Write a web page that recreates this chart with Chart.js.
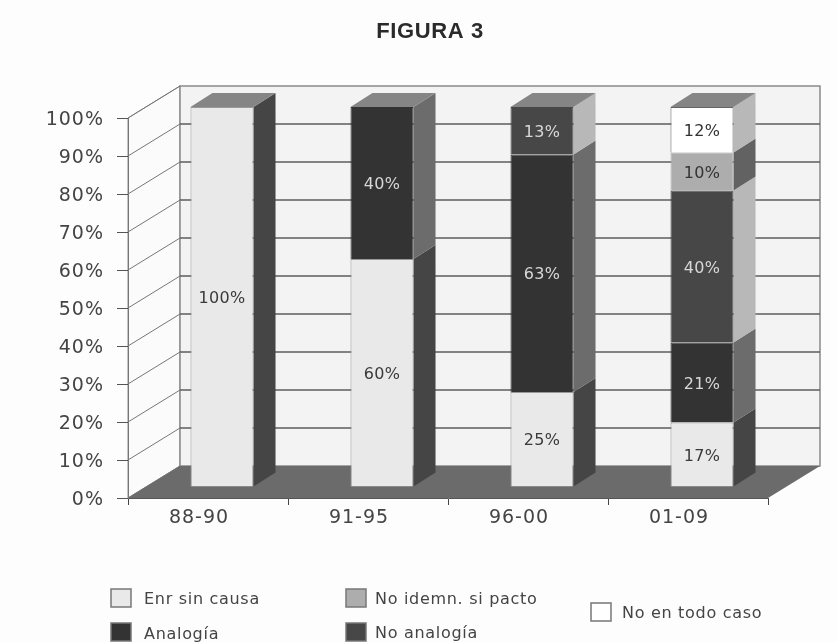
<!DOCTYPE html>
<html>
<head>
<meta charset="utf-8">
<title>Figura 3</title>
<script src="https://cdn.jsdelivr.net/npm/chart.js@4/dist/chart.umd.js"></script>
<style>
	html, body { margin: 0; padding: 0; background: #fdfdfd; overflow: hidden; }
	canvas { display: block; filter: blur(0.6px); }
</style>
</head>
<body>
<canvas id="chart" width="837" height="642"></canvas>
<script>
const categories = ['88-90', '91-95', '96-00', '01-09'];
const seriesNames = ['Enr sin causa', 'Analogía', 'No analogía', 'No idemn. si pacto', 'No en todo caso'];
const enrSinCausa = [100, 60, 25, 17];
const analogia = [null, 40, 62.5, 21];
const noAnalogia = [null, null, 12.5, 40];
const noIdemn = [null, null, null, 10];
const noEnTodoCaso = [null, null, null, 12];
const yTicks = [0, 10, 20, 30, 40, 50, 60, 70, 80, 90, 100];

const frontColors = ['#e9e9e9', '#333333', '#474747', '#adadad', '#ffffff'];
const sideColors = ['#454545', '#6c6c6c', '#b8b8b8', '#626262', '#b8b8b8'];
const labelColors = ['#3a3a3a', '#d8d8d8', '#d8d8d8', '#333333', '#333333'];
const topColor = '#858585';
const tickFont = {family: '"DejaVu Sans", sans-serif', size: 19};

// depth of the room, depth of one bar, and where the bars sit inside the room
const wall = {dx: 52, dy: -32};
const barDepth = {dx: 22, dy: -14};
const barShift = {x: 14, y: -11};

// legend is not a regular grid in the picture: two rows plus one box in between
const legendSpots = [
	{box: [111, 589], text: [144, 600]},
	{box: [111, 623], text: [144, 635]},
	{box: [346, 623], text: [375, 634]},
	{box: [346, 589], text: [375, 600]},
	{box: [591, 603], text: [622, 614]}
];

function poly(ctx, points, fill, stroke, lineWidth){
	ctx.beginPath();
	points.forEach((p, i) => i ? ctx.lineTo(p[0], p[1]) : ctx.moveTo(p[0], p[1]));
	ctx.closePath();
	if(fill){
		ctx.fillStyle = fill;
		ctx.fill();
	}
	if(stroke){
		ctx.strokeStyle = stroke;
		ctx.lineWidth = lineWidth || 1;
		ctx.stroke();
	}
}

const room3d = {
	id: 'room3d',
	beforeDraw(chart){
		let ctx = chart.ctx;
		let {left, right, top, bottom} = chart.chartArea;
		let y = chart.scales.y;

		ctx.save();
		// left wall and back wall
		poly(ctx, [[left, top], [left + wall.dx, top + wall.dy], [left + wall.dx, bottom + wall.dy], [left, bottom]], '#fbfbfb', '#8a8a8a');
		poly(ctx, [[left + wall.dx, top + wall.dy], [right + wall.dx, top + wall.dy], [right + wall.dx, bottom + wall.dy], [left + wall.dx, bottom + wall.dy]], '#f3f3f3', '#8a8a8a', 1.5);

		yTicks.forEach(t => {
			let py = y.getPixelForValue(t);
			ctx.strokeStyle = '#777777';
			ctx.lineWidth = 1;
			ctx.beginPath();
			ctx.moveTo(left, py);
			ctx.lineTo(left + wall.dx, py + wall.dy);
			ctx.stroke();
			if(t == 0 || t == 100)
				return;
			ctx.strokeStyle = '#5c5c5c';
			ctx.lineWidth = 1.5;
			ctx.beginPath();
			ctx.moveTo(left + wall.dx, py + wall.dy);
			ctx.lineTo(right + wall.dx, py + wall.dy);
			ctx.stroke();
		});

		// floor
		poly(ctx, [[left, bottom], [right, bottom], [right + wall.dx, bottom + wall.dy], [left + wall.dx, bottom + wall.dy]], '#6b6b6b');
		ctx.restore();

		// the scan has wide set numbers, axis labels inherit this
		ctx.letterSpacing = '1px';
	},
	beforeDatasetsDraw(chart){
		let ctx = chart.ctx;
		ctx.save();
		ctx.translate(barShift.x, barShift.y);

		categories.forEach((cat, c) => {
			let topEl = null;
			chart.data.datasets.forEach((ds, i) => {
				if(ds.data[c] === null)
					return;
				let el = chart.getDatasetMeta(i).data[c];
				let r = el.x + el.width / 2;
				poly(ctx, [[r, el.y], [r + barDepth.dx, el.y + barDepth.dy], [r + barDepth.dx, el.base + barDepth.dy], [r, el.base]], sideColors[i]);
				topEl = el;
			});
			let l = topEl.x - topEl.width / 2;
			let r = topEl.x + topEl.width / 2;
			let ty = topEl.y;
			poly(ctx, [[l, ty], [r, ty], [r + barDepth.dx, ty + barDepth.dy], [l + barDepth.dx, ty + barDepth.dy]], topColor);
		});
	},
	afterDatasetsDraw(chart){
		let ctx = chart.ctx;

		// value labels, still inside the bar shift
		ctx.font = '16px "DejaVu Sans", sans-serif';
		ctx.letterSpacing = '0.3px';
		ctx.textAlign = 'center';
		ctx.textBaseline = 'middle';
		chart.data.datasets.forEach((ds, i) => {
			chart.getDatasetMeta(i).data.forEach((el, c) => {
				if(ds.data[c] === null)
					return;
				ctx.fillStyle = labelColors[i];
				ctx.fillText(Math.round(ds.data[c]) + '%', el.x, (el.y + el.base) / 2 + 2);
			});
		});
		ctx.restore();

		// title
		ctx.save();
		ctx.fillStyle = '#2a2a2a';
		ctx.font = 'bold 22px "Liberation Sans", Arial, sans-serif';
		ctx.letterSpacing = '0.6px';
		ctx.textAlign = 'center';
		ctx.textBaseline = 'middle';
		ctx.fillText('FIGURA 3', 430, 32);

		// legend
		ctx.font = '16px "DejaVu Sans", sans-serif';
		ctx.letterSpacing = '0.7px';
		ctx.textAlign = 'left';
		seriesNames.forEach((name, i) => {
			let spot = legendSpots[i];
			poly(ctx, [
				[spot.box[0], spot.box[1]],
				[spot.box[0] + 20, spot.box[1]],
				[spot.box[0] + 20, spot.box[1] + 18],
				[spot.box[0], spot.box[1] + 18]
			], frontColors[i], '#777777', 1.5);
			ctx.fillStyle = '#444444';
			ctx.fillText(name, spot.text[0], spot.text[1]);
		});
		ctx.restore();
	}
};

function dataset(label, data, i){
	return {
		label: label,
		data: data,
		backgroundColor: frontColors[i],
		borderColor: i == 0 ? '#999999' : (i == 4 ? '#666666' : frontColors[i]),
		borderWidth: 1,
		barPercentage: 0.394,
		categoryPercentage: 1
	};
}

new Chart(document.getElementById('chart'), {
	type: 'bar',
	plugins: [room3d],
	data: {
		labels: categories,
		datasets: [
			dataset(seriesNames[0], enrSinCausa, 0),
			dataset(seriesNames[1], analogia, 1),
			dataset(seriesNames[2], noAnalogia, 2),
			dataset(seriesNames[3], noIdemn, 3),
			dataset(seriesNames[4], noEnTodoCaso, 4)
		]
	},
	options: {
		responsive: false,
		animation: false,
		layout: {padding: {top: 118, right: 69, bottom: 0, left: 0}},
		plugins: {
			legend: {display: false},
			title: {display: false},
			tooltip: {enabled: false}
		},
		scales: {
			x: {
				stacked: true,
				afterFit: axis => { axis.height = 144; },
				border: {display: true, color: '#555555'},
				grid: {display: true, drawOnChartArea: false, drawTicks: true, tickLength: 7, tickColor: '#444444', offset: true},
				ticks: {color: '#444444', padding: 2, labelOffset: -9, font: tickFont}
			},
			y: {
				stacked: true,
				min: 0,
				max: 100,
				afterFit: axis => { axis.width = 128; },
				afterBuildTicks: axis => { axis.ticks = yTicks.map(v => ({value: v})); },
				border: {display: true, color: '#777777'},
				grid: {display: true, drawOnChartArea: false, drawTicks: true, tickLength: 11, tickColor: '#555555'},
				ticks: {color: '#444444', padding: 13, labelOffset: 2, callback: v => v + '%', font: tickFont}
			}
		}
	}
});
</script>
</body>
</html>
